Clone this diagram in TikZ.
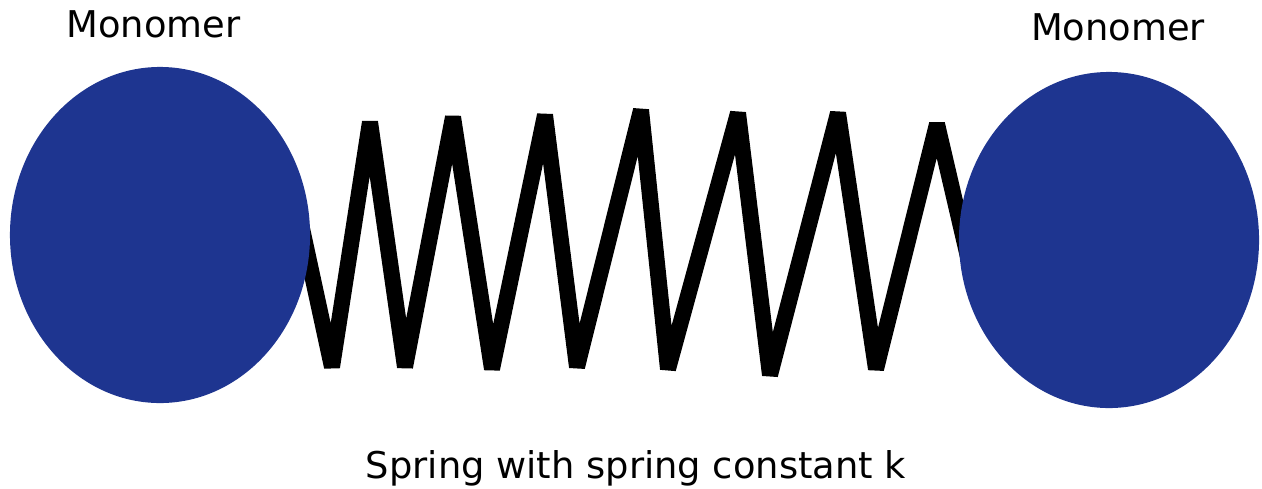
\documentclass[tikz,border=0pt]{standalone}
\usepackage{fontspec}
\setmainfont{DejaVu Sans}
\usetikzlibrary{shapes.geometric,backgrounds}
\definecolor{monoface}{HTML}{1E3590}
\definecolor{springedge}{HTML}{000000}
\def\springw{0.4cm}

\begin{document}
\begin{tikzpicture}[x=0.025cm, y=-0.025cm,
  monomer/.style={ellipse, fill=monoface, draw=none, inner sep=0pt,
    minimum width=7.5cm, minimum height=8.4cm},
  springline/.style={draw=springedge, line width=\springw, line join=bevel},
  monolabel/.style={font=\fontsize{26.2}{30}\selectfont, anchor=base, inner sep=0pt}]

  \useasboundingbox (0,0) rectangle (1262,488);

  % --------------------------------------------------------------------
  % Monomers
  % --------------------------------------------------------------------

  \node[monomer] (lmono) at (160,235) {};
  \node[monomer] (rmono) at (1109,240) {};

  \node[monolabel] (ltext) at (153.5,37) {Monomer};
  \node[monolabel] (rtext) at (1118,40) {Monomer};

  % --------------------------------------------------------------------
  % Spring, behind the monomers
  % --------------------------------------------------------------------

  \coordinate (springa) at (298,210);
  \coordinate (springb) at (978,300);

  \begin{pgfonlayer}{background}
    \draw[springline]
      (springa)
      -- (332,367) -- (370,122)
      -- (405,367) -- (453,117)
      -- (492,369) -- (545,115)
      -- (577,367) -- (641,110)
      -- (668,369) -- (738,113)
      -- (770,375) -- (838,113)
      -- (876,369) -- (937,124)
      -- (springb);
  \end{pgfonlayer}

  \node[monolabel] (ktext) at (636,478) {Spring with spring constant k};

\end{tikzpicture}
\end{document}
